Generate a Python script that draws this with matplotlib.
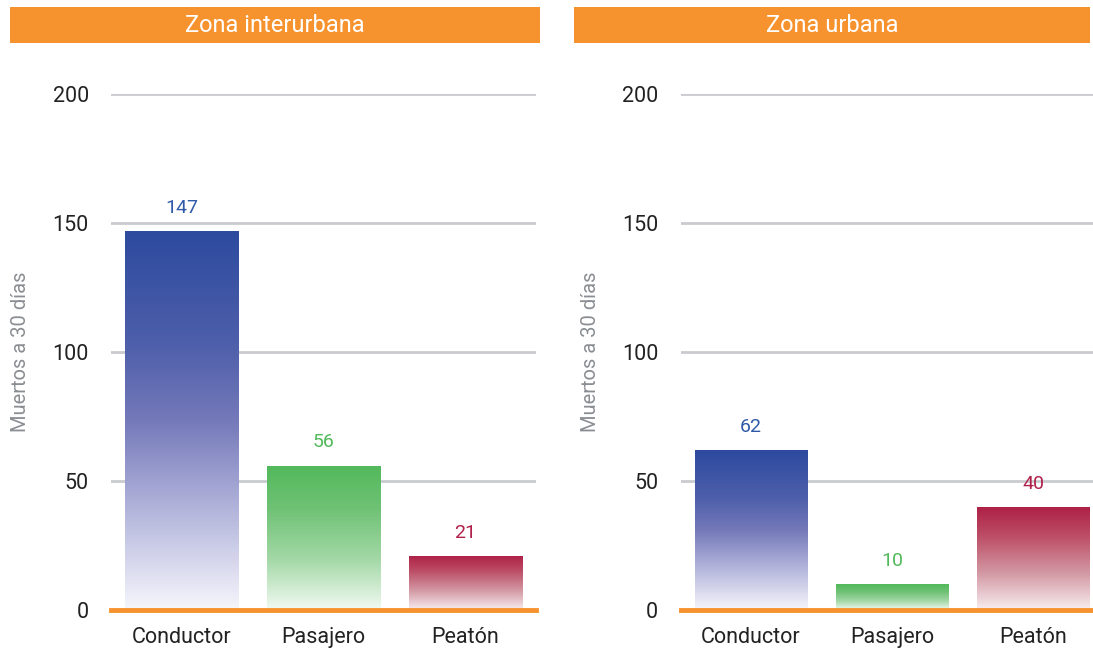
import numpy as np
import matplotlib.pyplot as plt
from matplotlib.colors import LinearSegmentedColormap
from matplotlib.patches import Rectangle

# Datos
categorias = ["Conductor", "Pasajero", "Peatón"]
interurbana = [147, 56, 21]
urbana = [62, 10, 40]
titulos = ["Zona interurbana", "Zona urbana"]
etiquetas_color = ["#2f5aa8", "#52b95b", "#b0204a"]

# degradados de cada serie (de abajo hacia arriba)
degradados = [
    [(0, "#f6f6fc"), (0.3, "#a9abd6"), (0.5, "#7479b9"), (0.7, "#4e5fab"), (1, "#2d4a9e")],
    [(0, "#f2faf2"), (0.35, "#a3d8a6"), (0.7, "#6fc275"), (1, "#52b95b")],
    [(0, "#f8eef0"), (0.35, "#d39aa5"), (0.7, "#bd5068"), (1, "#ad1f45")],
]

plt.rcParams['font.family'] = ['Liberation Sans Narrow', 'Roboto', 'DejaVu Sans']

NARANJA = "#f7932f"

fig = plt.figure(figsize=(10.93, 6.5), dpi=100)


def barra_degradado(ax, x, h, stops, ancho=0.8):
    cmap = LinearSegmentedColormap.from_list("g", stops)
    grad = np.linspace(0, 1, 256).reshape(-1, 1)
    im = ax.imshow(grad, cmap=cmap, vmin=0, vmax=1, origin="lower", aspect="auto",
                   extent=(x - ancho / 2, x + ancho / 2, 0, h), zorder=2)
    rect = Rectangle((x - ancho / 2, 0), ancho, h, transform=ax.transData,
                     facecolor="none", edgecolor="none")
    ax.add_patch(rect)
    im.set_clip_path(rect)


def panel(rect_ax, header, titulo, valores):
    ax = fig.add_axes(rect_ax)
    x = np.arange(len(categorias))
    for i, v in enumerate(valores):
        barra_degradado(ax, x[i], v, degradados[i])
        ax.text(x[i], v + 5.5, str(v), ha="center", va="bottom",
                color=etiquetas_color[i], fontsize=14)
    ax.set_xlim(-0.5, 2.5)
    ax.set_ylim(0, 200)
    ax.set_yticks([0, 50, 100, 150, 200])
    ax.yaxis.grid(True, color="#c9cbcf", linewidth=2)
    ax.set_axisbelow(True)
    ax.axhline(0, color=NARANJA, linewidth=3.5, zorder=3, clip_on=False)
    for s in ax.spines.values():
        s.set_visible(False)
    ax.tick_params(length=0, labelsize=15.5, colors="#222222")
    ax.tick_params(axis="y", pad=16)
    ax.tick_params(axis="x", pad=12)
    ax.set_xticks(x)
    ax.set_xticklabels(categorias)
    ax.set_ylabel("Muertos a 30 días", fontsize=14.5, color="#8a8d91", labelpad=16)
    # cabecera
    fig.patches.append(Rectangle((header[0], header[1]), header[2], header[3],
                                 transform=fig.transFigure, facecolor=NARANJA,
                                 edgecolor="none", zorder=0))
    fig.text(header[0] + header[2] / 2, header[1] + header[3] / 2, titulo,
             ha="center", va="center", color="white", fontsize=17)
    return ax


W, H = 1093, 650
panel([111 / W, 40 / H, 425 / W, 516 / H],
      [10 / W, (H - 43) / H, 530 / W, 36 / H], titulos[0], interurbana)
panel([680.5 / W, 40 / H, 423 / W, 516 / H],
      [574 / W, (H - 43) / H, 516 / W, 36 / H], titulos[1], urbana)

fig.savefig("out.png", dpi=100)
